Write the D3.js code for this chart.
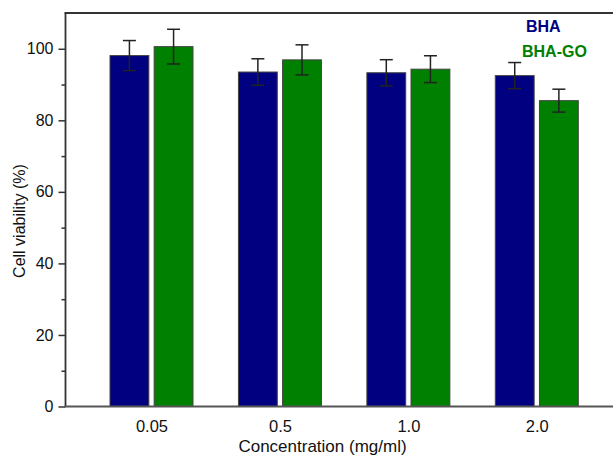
<!DOCTYPE html>
<html><head><meta charset="utf-8">
<script src="https://cdn.jsdelivr.net/npm/d3@7"></script>
<style>body{margin:0;background:#fff}svg{display:block;font-family:"Liberation Sans",Arial,sans-serif}</style>
</head><body><svg id="c" width="613" height="456"></svg>
<script>
const categories = ["0.05", "0.5", "1.0", "2.0"];
const seriesNames = ["BHA", "BHA-GO"];
const bhaValues = [98.1, 93.5, 93.3, 92.5];
const bhaErrors = [4.2, 3.7, 3.65, 3.65];
const bhagoValues = [100.6, 96.9, 94.3, 85.5];
const bhagoErrors = [4.85, 4.2, 3.75, 3.2];
const yTicks = [0, 20, 40, 60, 80, 100];
const yMinorTicks = [10, 30, 50, 70, 90];
const colors = ["#000080", "#008000"];

const svg = d3.select("#c");
const mLeft = 65.5, mTop = 13, mBottom = 406.5, mRight = 640;
const x = d3.scalePoint().domain(categories).range([151.5, 536.8]);
const y = d3.scaleLinear().domain([0, 110]).range([mBottom, mTop]);
const off = d3.scaleBand().domain(seriesNames).range([-41.5, 41.5]).paddingInner(0.12);

const series = [
  {name: "BHA", values: bhaValues, errors: bhaErrors, color: colors[0]},
  {name: "BHA-GO", values: bhagoValues, errors: bhagoErrors, color: colors[1]}
];

// bars
series.forEach(s => {
  const g = svg.append("g");
  g.selectAll("rect").data(categories).join("rect")
    .attr("x", (c) => x(c) + off(s.name))
    .attr("width", off.bandwidth())
    .attr("y", (c, i) => y(s.values[i]))
    .attr("height", (c, i) => y(0) - y(s.values[i]))
    .attr("fill", s.color).attr("stroke", "#444").attr("stroke-width", 1);
  const eg = g.selectAll("g.err").data(categories).join("g").attr("class", "err")
    .attr("stroke", "#222").attr("stroke-width", 1.5);
  const cx = c => x(c) + off(s.name) + off.bandwidth() / 2;
  eg.append("line").attr("x1", cx).attr("x2", cx)
    .attr("y1", (c, i) => y(s.values[i] + s.errors[i])).attr("y2", (c, i) => y(s.values[i] - s.errors[i]));
  [1, -1].forEach(sg => {
    eg.append("line").attr("x1", c => cx(c) - 6.5).attr("x2", c => cx(c) + 6.5)
      .attr("y1", (c, i) => y(s.values[i] + sg * s.errors[i])).attr("y2", (c, i) => y(s.values[i] + sg * s.errors[i]));
  });
});

// axes
const yAxis = d3.axisLeft(y).tickValues(yTicks).tickSize(7).tickPadding(5);
const yg = svg.append("g").attr("transform", `translate(${mLeft},0)`).call(yAxis);
yg.select(".domain").remove();
yg.selectAll(".tick line").attr("stroke", "#333").attr("stroke-width", 1.5);
yg.selectAll(".tick text").attr("font-size", 16).attr("fill", "#111").attr("font-family", "Liberation Sans, Arial, sans-serif");
const ym = d3.axisLeft(y).tickValues(yMinorTicks).tickSize(4).tickFormat("");
const ymg = svg.append("g").attr("transform", `translate(${mLeft},0)`).call(ym);
ymg.select(".domain").remove();
ymg.selectAll(".tick line").attr("stroke", "#333").attr("stroke-width", 1.5);

const xAxis = d3.axisBottom(x).tickSize(0).tickPadding(14);
const xg = svg.append("g").attr("transform", `translate(0,${mBottom})`).call(xAxis);
xg.select(".domain").remove();
xg.selectAll(".tick text").attr("font-size", 16.5).attr("fill", "#111").attr("font-family", "Liberation Sans, Arial, sans-serif");

// frame lines
svg.append("line").attr("x1", mLeft).attr("x2", mLeft).attr("y1", mTop).attr("y2", mBottom).attr("stroke", "#333").attr("stroke-width", 1.8);
svg.append("line").attr("x1", mLeft - 1).attr("x2", mRight).attr("y1", mBottom).attr("y2", mBottom).attr("stroke", "#555").attr("stroke-width", 1.8);
svg.append("line").attr("x1", mLeft - 1).attr("x2", mRight).attr("y1", mTop).attr("y2", mTop).attr("stroke", "#333").attr("stroke-width", 1.8);

// titles
svg.append("text").attr("x", 322.5).attr("y", 451.5).attr("text-anchor", "middle")
  .attr("font-size", 17).attr("fill", "#111").text("Concentration (mg/ml)");
svg.append("text").attr("transform", "translate(25,221) rotate(-90)").attr("text-anchor", "middle")
  .attr("font-size", 16).attr("fill", "#111").text("Cell viability (%)");

// legend
svg.append("text").attr("x", 526).attr("y", 32).attr("font-size", 16).attr("font-weight", "bold")
  .attr("fill", colors[0]).text(seriesNames[0]);
svg.append("text").attr("x", 522).attr("y", 57).attr("font-size", 16).attr("font-weight", "bold")
  .attr("fill", colors[1]).text(seriesNames[1]);
</script></body></html>
